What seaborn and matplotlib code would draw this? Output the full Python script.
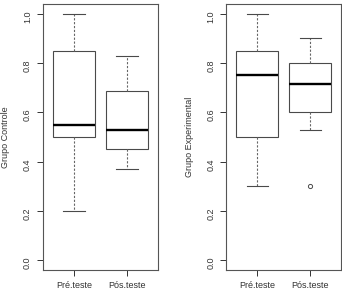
import numpy as np
import pandas as pd
import matplotlib
matplotlib.use("Agg")
import matplotlib.pyplot as plt
import seaborn as sns

plt.rcParams['font.family'] = ['Liberation Sans', 'DejaVu Sans']

# dados (valores brutos que reproduzem os quartis)
testes = ["Pré.teste", "Pós.teste"]
controle_pre = [0.2, 0.5, 0.55, 0.85, 1.0]
controle_pos = [0.37, 0.45, 0.53, 0.685, 0.83]
experimental_pre = [0.3, 0.5, 0.75, 0.85, 1.0]
experimental_pos = [0.3, 0.53, 0.6, 0.65, 0.715, 0.75, 0.8, 0.85, 0.9]
rotulos = ["Grupo Controle", "Grupo Experimental"]
yticks = [0.0, 0.2, 0.4, 0.6, 0.8, 1.0]

def montar(pre, pos):
    return pd.DataFrame({
        "teste": [testes[0]] * len(pre) + [testes[1]] * len(pos),
        "valor": pre + pos,
    })

dados = [montar(controle_pre, controle_pos), montar(experimental_pre, experimental_pos)]

fig = plt.figure(figsize=(3.42, 2.92), dpi=100)
posicoes = [[43/342, 22/292, 115/342, 266/292], [226.5/342, 22/292, 114.5/342, 266/292]]

cinza = "#4a4a4a"
for df, rot, pos in zip(dados, rotulos, posicoes):
    ax = fig.add_axes(pos)
    sns.boxplot(data=df, x="teste", y="valor", order=testes, ax=ax,
                color="white", linecolor=cinza, linewidth=0.8, width=0.8,
                whis=1.4,
                medianprops=dict(color="black", linewidth=1.7),
                whiskerprops=dict(linestyle=(0, (2, 1.5)), color="#666666"),
                capprops=dict(color=cinza),
                flierprops=dict(marker="o", markersize=3, markerfacecolor="none",
                                markeredgecolor=cinza, markeredgewidth=0.7))
    ax.set_xlim(-0.58, 1.58)
    ax.set_ylim(-0.04, 1.04)
    ax.set_yticks(yticks)
    ax.set_yticklabels(["%.1f" % v for v in yticks])
    ax.set_xlabel("")
    ax.set_ylabel(rot, fontsize=6.5, color="#333333", labelpad=9)
    ax.tick_params(axis="y", labelrotation=90, labelsize=6.5, length=4, width=0.7,
                   pad=4, colors="#333333")
    ax.tick_params(axis="x", labelsize=6.5, length=4, width=0.7, pad=4, colors="#333333")
    for sp in ax.spines.values():
        sp.set_color("#555555")
        sp.set_linewidth(0.8)

fig.savefig("out.png", dpi=100)
